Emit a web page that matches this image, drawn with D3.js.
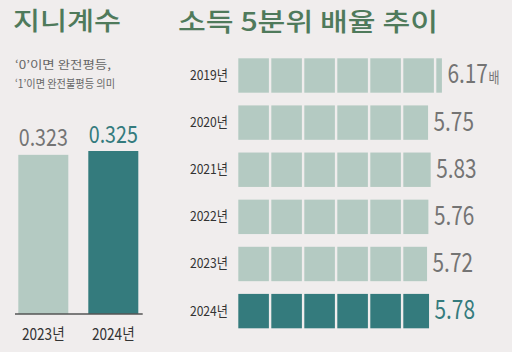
<!DOCTYPE html>
<html>
<head>
<meta charset="utf-8">
<script src="https://cdn.jsdelivr.net/npm/d3@7"></script>
<style>
  html, body { margin: 0; padding: 0; background: #f0eded; }
  svg { display: block; font-family: "Noto Sans CJK KR", "Noto Sans", sans-serif; }
</style>
</head>
<body>
<div id="chart"></div>
<script>
// 지니계수 (left)
const giniYears = ['2023년', '2024년'];
const giniValues = [0.323, 0.325];
const giniLabels = ['0.323', '0.325'];

// 소득 5분위 배율 (right)
const ratioYears = ['2019년', '2020년', '2021년', '2022년', '2023년', '2024년'];
const ratioValues = [6.17, 5.75, 5.83, 5.76, 5.72, 5.78];
const ratioLabels = ['6.17', '5.75', '5.83', '5.76', '5.72', '5.78'];

const W = 512, H = 352;
const light = '#b4cac2', teal = '#347b7d', green = '#4f7a5b', grey = '#747474';

const svg = d3.select('#chart').append('svg')
    .attr('width', W)
    .attr('height', H);

svg.append('rect').attr('width', W).attr('height', H).attr('fill', '#f0eded');

// titles
svg.append('text')
    .attr('x', 13).attr('y', 29.5)
    .attr('font-size', 25).attr('font-weight', 500)
    .attr('fill', green)
    .attr('textLength', 108).attr('lengthAdjust', 'spacingAndGlyphs')
    .text('지니계수');

svg.append('text')
    .attr('x', 178).attr('y', 30.5)
    .attr('font-size', 25.5).attr('font-weight', 500)
    .attr('fill', green)
    .attr('textLength', 260).attr('lengthAdjust', 'spacingAndGlyphs')
    .text('소득 5분위 배율 추이');

// subtitle
const sub = [['‘0’이면 완전평등,', 96, 69], ['‘1’이면 완전불평등 의미', 100, 88]];
svg.selectAll('text.sub')
    .data(sub)
    .join('text')
    .classed('sub', true)
    .attr('x', 15)
    .attr('y', d => d[2])
    .attr('font-size', 11.5)
    .attr('fill', '#666')
    .attr('textLength', d => d[1]).attr('lengthAdjust', 'spacingAndGlyphs')
    .text(d => d[0]);

// ---- left bar chart ----
const xL = d3.scaleBand()
    .domain(giniYears)
    .range([18.3, 138.3])
    .paddingInner(0.2857)
    .paddingOuter(0);

// scale is cut (infographic style), not zero based
const yL = d3.scaleLinear()
    .domain([0.24, 0.325])
    .range([314, 151]);

const left = svg.append('g');

left.selectAll('rect.gini')
    .data(giniValues)
    .join('rect')
    .classed('gini', true)
    .attr('x', (d, i) => xL(giniYears[i]))
    .attr('y', d => yL(d))
    .attr('width', xL.bandwidth())
    .attr('height', d => yL.range()[0] - yL(d))
    .attr('fill', (d, i) => i === 1 ? teal : light);

left.append('line')
    .attr('x1', 15).attr('x2', 142.7)
    .attr('y1', 314).attr('y2', 314)
    .attr('stroke', '#555').attr('stroke-width', 1.5);

left.selectAll('g.gval')
    .data(giniValues)
    .join('g')
    .classed('gval', true)
    .attr('transform', (d, i) => `translate(${xL(giniYears[i]) + xL.bandwidth() / 2},${yL(d) - 8.5}) scale(0.82,1)`)
    .append('text')
    .attr('text-anchor', 'middle')
    .attr('font-size', 24)
    .attr('fill', (d, i) => i === 1 ? teal : grey)
    .text((d, i) => giniLabels[i]);

left.selectAll('g.gyear')
    .data(giniYears)
    .join('g')
    .classed('gyear', true)
    .attr('transform', d => `translate(${xL(d) + xL.bandwidth() / 2},340) scale(0.85,1)`)
    .append('text')
    .attr('text-anchor', 'middle')
    .attr('font-size', 16)
    .attr('fill', '#333')
    .text(d => d);

// ---- right unit bar chart ----
const xR = d3.scaleLinear()
    .domain([0, 1])
    .range([238.3, 271.3]);

const yR = d3.scaleBand()
    .domain(ratioYears)
    .range([58.3, 328.3])
    .paddingInner(0.27)
    .paddingOuter(0);

const gap = 2.4;
const right = svg.append('g');

const rows = right.selectAll('g.row')
    .data(ratioValues)
    .join('g')
    .classed('row', true)
    .attr('transform', (d, i) => `translate(0,${yR(ratioYears[i])})`);

rows.each(function(v, i) {
    const cells = d3.range(Math.ceil(v)).map(k => [k, Math.min(k + 1, v)]);
    d3.select(this).selectAll('rect')
        .data(cells)
        .join('rect')
        .attr('x', c => xR(c[0]))
        .attr('y', 0)
        .attr('width', c => Math.max(1, xR(c[1]) - xR(c[0]) - (c[1] === v && v % 1 !== 0 ? 0 : gap)))
        .attr('height', yR.bandwidth())
        .attr('fill', i === ratioValues.length - 1 ? teal : light);
});

// year labels
rows.append('g')
    .attr('transform', `translate(228,${yR.bandwidth() / 2 + 4.5}) scale(0.9,1)`)
    .append('text')
    .attr('text-anchor', 'end')
    .attr('font-size', 13.5)
    .attr('fill', '#333')
    .text((d, i) => ratioYears[i]);

// value labels
const vals = rows.append('g')
    .attr('transform', d => `translate(${xR(d) + 5.5},${yR.bandwidth() / 2 + 8}) scale(0.8,1)`)
    .append('text')
    .attr('font-size', 26)
    .attr('fill', (d, i) => i === ratioValues.length - 1 ? teal : grey);

vals.append('tspan').text((d, i) => ratioLabels[i]);
vals.filter((d, i) => i === 0)
    .append('tspan')
    .attr('font-size', 15)
    .attr('dx', 1)
    .text('배');
</script>
</body>
</html>
